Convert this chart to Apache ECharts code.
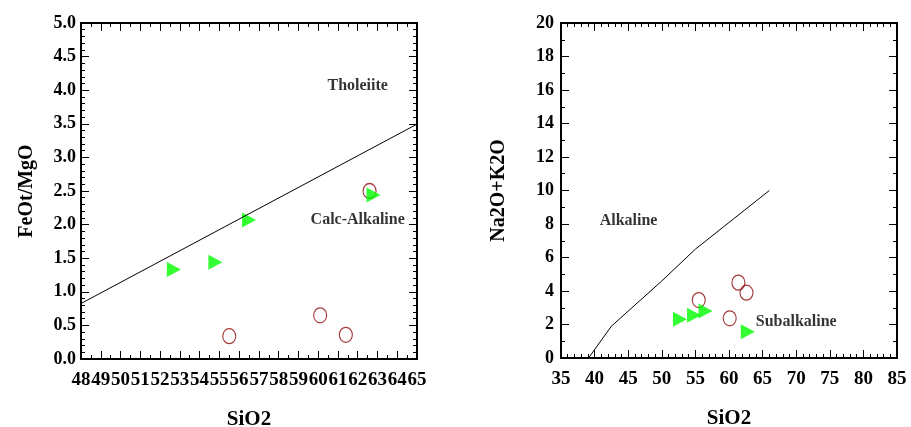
<!DOCTYPE html>
<html>
<head>
<meta charset="utf-8">
<script src="https://cdn.jsdelivr.net/npm/echarts@6/dist/echarts.min.js"></script>
<style>
html,body{margin:0;padding:0;background:#fff;}
#main{width:911px;height:427px;}
</style>
</head>
<body>
<div id="main"></div>
<script>
// ---- data ----
const siO2Circles = [55.5, 60.1, 61.4, 62.6];
const feoMgoCircles = [0.34, 0.65, 0.36, 2.50];
const alkCircles = [3.46, 2.37, 4.50, 3.90];

const siO2Triangles = [52.7, 54.8, 56.5, 62.8];
const feoMgoTriangles = [1.33, 1.44, 2.07, 2.44];
const alkTriangles = [2.31, 2.55, 2.80, 1.57];

// Miyashiro tholeiite / calc-alkaline divider
const miyashiroX = [48, 65];
const miyashiroY = [0.826, 3.495];

// Irvine & Baragar alkaline / subalkaline divider
const irvineX = [39.1, 42.5, 50, 55, 66];
const irvineY = [0, 1.9, 4.6, 6.5, 10];

// field labels (data coordinates)
const leftFieldNames = ['Tholeiite', 'Calc-Alkaline'];
const leftFieldX = [62.0, 62.0];
const leftFieldY = [4.06, 2.07];
const rightFieldNames = ['Alkaline', 'Subalkaline'];
const rightFieldX = [45.05, 70.0];
const rightFieldY = [8.2, 2.17];

// axis ranges / ticks
const leftX = {min: 48, max: 65, interval: 1, minor: 2};
const leftY = {min: 0, max: 5, interval: 0.5, minor: 5};
const rightX = {min: 35, max: 85, interval: 5, minor: 5};
const rightY = {min: 0, max: 20, interval: 2, minor: 2};

const FONT = '"Liberation Serif", "Times New Roman", serif';

function zip(a, b) { return a.map((v, i) => [v, b[i]]); }

function axis(gridIndex, r, position, showLabel, opts) {
  opts = opts || {};
  const a = {
    type: 'value',
    gridIndex: gridIndex,
    position: position,
    min: r.min, max: r.max, interval: r.interval,
    axisLine: {show: true, onZero: false, lineStyle: {color: '#000000', width: 2}},
    axisTick: {show: true, inside: true, length: opts.tickLen || 8, lineStyle: {color: '#000000', width: 1}},
    minorTick: {show: true, splitNumber: r.minor, length: opts.minorLen || 4, lineStyle: {color: '#000000', width: 1}},
    splitLine: {show: false},
    axisLabel: {
      show: showLabel,
      color: '#000', fontFamily: FONT, fontWeight: 'bold',
      fontSize: opts.labelSize || 18,
      margin: opts.margin || 8,
      showMinLabel: true, showMaxLabel: true
    }
  };
  if (opts.formatter) a.axisLabel.formatter = opts.formatter;
  return Object.assign(a, opts.extra || {});
}

const nameStyle = {color: '#000', fontFamily: FONT, fontWeight: 'bold', fontSize: 21};

const option = {
  animation: false,
  backgroundColor: '#fff',
  grid: [
    {left: 81, top: 23, width: 336, height: 336, outerBoundsMode: 'none'},
    {left: 561, top: 23, width: 336, height: 335, outerBoundsMode: 'none'}
  ],
  xAxis: [
    axis(0, leftX, 'bottom', true, {labelSize: 19, margin: 12, tickLen: 8, minorLen: 4,
      extra: {name: 'SiO2', nameLocation: 'middle', nameGap: 50, nameTextStyle: nameStyle}}),
    axis(0, leftX, 'top', false, {tickLen: 8, minorLen: 4}),
    axis(1, rightX, 'bottom', true, {labelSize: 19, margin: 12, tickLen: 8, minorLen: 4,
      extra: {name: 'SiO2', nameLocation: 'middle', nameGap: 50, nameTextStyle: nameStyle}}),
    axis(1, rightX, 'top', false, {tickLen: 8, minorLen: 4})
  ],
  yAxis: [
    axis(0, leftY, 'left', true, {labelSize: 18, margin: 5, tickLen: 8, minorLen: 4,
      formatter: v => v.toFixed(1),
      extra: {name: 'FeOt/MgO', nameLocation: 'middle', nameRotate: 90, nameGap: 44,
        nameTextStyle: Object.assign({}, nameStyle, {fontSize: 20})}}),
    axis(0, leftY, 'right', false, {tickLen: 8, minorLen: 4}),
    axis(1, rightY, 'left', true, {labelSize: 18, margin: 7, tickLen: 8, minorLen: 4,
      extra: {name: 'Na2O+K2O', nameLocation: 'middle', nameRotate: 90, nameGap: 52,
        nameTextStyle: Object.assign({}, nameStyle, {fontSize: 20})}}),
    axis(1, rightY, 'right', false, {tickLen: 8, minorLen: 4})
  ],
  series: [
    {
      type: 'line', xAxisIndex: 0, yAxisIndex: 0, silent: true,
      data: zip(miyashiroX, miyashiroY), symbol: 'none',
      lineStyle: {color: '#000', width: 1}
    },
    {
      type: 'line', xAxisIndex: 2, yAxisIndex: 2, silent: true,
      data: zip(irvineX, irvineY), symbol: 'none',
      lineStyle: {color: '#000', width: 1}
    },
    {
      type: 'scatter', xAxisIndex: 0, yAxisIndex: 0, silent: true,
      data: zip(siO2Circles, feoMgoCircles),
      symbol: 'circle', symbolSize: [13, 15],
      itemStyle: {color: 'rgba(0,0,0,0)', borderColor: '#8b0a0a', borderWidth: 1.2}
    },
    {
      type: 'scatter', xAxisIndex: 0, yAxisIndex: 0, silent: true,
      data: zip(siO2Triangles, feoMgoTriangles),
      symbol: 'triangle', symbolRotate: -90, symbolSize: [15, 14],
      itemStyle: {color: '#00ff00'}
    },
    {
      type: 'scatter', xAxisIndex: 2, yAxisIndex: 2, silent: true,
      data: zip(siO2Circles, alkCircles),
      symbol: 'circle', symbolSize: [13, 15],
      itemStyle: {color: 'rgba(0,0,0,0)', borderColor: '#8b0a0a', borderWidth: 1.2}
    },
    {
      type: 'scatter', xAxisIndex: 2, yAxisIndex: 2, silent: true,
      data: zip(siO2Triangles, alkTriangles),
      symbol: 'triangle', symbolRotate: -90, symbolSize: [15, 14],
      itemStyle: {color: '#00ff00'}
    },
    {
      type: 'scatter', xAxisIndex: 0, yAxisIndex: 0, silent: true,
      data: leftFieldNames.map((n, i) => ({name: n, value: [leftFieldX[i], leftFieldY[i]]})),
      symbolSize: 0, itemStyle: {color: 'rgba(0,0,0,0)'},
      label: {show: true, position: 'inside', formatter: p => p.name, color: '#000',
        fontFamily: FONT, fontWeight: 'bold', fontSize: 16}
    },
    {
      type: 'scatter', xAxisIndex: 2, yAxisIndex: 2, silent: true,
      data: rightFieldNames.map((n, i) => ({name: n, value: [rightFieldX[i], rightFieldY[i]]})),
      symbolSize: 0, itemStyle: {color: 'rgba(0,0,0,0)'},
      label: {show: true, position: 'inside', formatter: p => p.name, color: '#000',
        fontFamily: FONT, fontWeight: 'bold', fontSize: 16}
    }
  ]
};

const chart = echarts.init(document.getElementById('main'), null, {renderer: 'canvas'});
chart.setOption(option);
</script>
</body>
</html>
